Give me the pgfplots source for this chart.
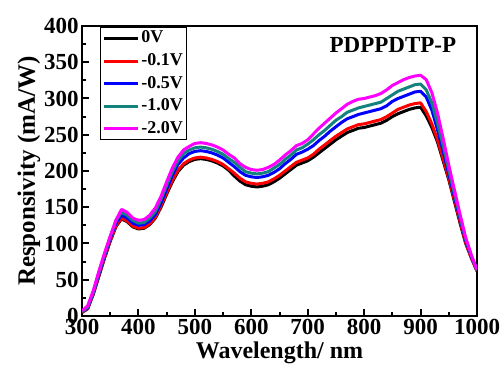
\documentclass[border=0pt]{standalone}
\usepackage{pgfplots}
\pgfplotsset{compat=1.18}
\usepackage{pgfplotstable}
\usepackage{fontspec}
\setmainfont{Liberation Serif}
\definecolor{cteal}{RGB}{20,130,125}
\definecolor{cmag}{RGB}{255,0,255}
\pgfplotstableread{
x b r bl t m
300 5 5 6 6 7
310 10 10 11 12 14
320 30 31 32 33 35
330 55 56 58 60 62
340 80 81 83 85 87
350 103 104 107 109 110
360 123 124 128 131 132
370 134 135 139 143 147
380 130 131 135 139 143
390 123 124 128 132 135
400 120 121 125 128 132
410 121 122 126 129 133
420 126 127 131 135 139
430 135 136 140 144 149
440 150 152 156 161 165
450 168 170 175 180 185
460 185 187 194 199 204
470 199 201 209 214 219
480 208 210 218 224 229
490 213 215 224 229 234
500 216 218 227 232 238
510 217 219 228 233 239
520 216 218 227 232 238
530 214 216 225 230 236
540 211 213 222 227 233
550 207 209 218 223 229
560 201 203 212 217 223
570 193 197 206 212 218
580 186 190 199 205 210
590 181 185 194 199 205
600 179 183 192 197 202
610 178 182 191 196 201
620 179 183 192 197 202
630 181 185 194 199 205
640 185 189 198 204 209
650 190 194 203 209 215
660 196 200 210 216 222
670 202 206 216 222 228
680 208 212 223 229 235
690 211 215 226 232 238
700 214 218 230 237 243
710 219 223 235 243 251
720 225 230 242 250 259
730 231 236 248 256 266
740 237 242 255 263 273
750 243 248 261 270 280
760 248 253 267 275 286
770 253 258 272 281 292
780 256 261 275 284 296
790 259 264 278 287 299
800 260 265 280 289 300
810 262 267 282 291 302
820 264 269 284 293 304
830 266 271 286 295 307
840 270 275 290 300 312
850 275 280 296 305 318
860 279 285 300 310 322
870 282 288 303 313 326
880 285 291 306 316 329
890 287 293 309 319 331
900 288 294 310 320 332
910 276 282 302 312 326
920 260 265 284 294 308
930 240 243 257 266 280
940 214 217 227 235 245
950 188 190 196 201 208
960 158 160 165 169 174
970 128 130 134 137 140
980 100 101 104 106 108
990 80 80 82 83 84
1000 62 62 63 63 64
}\datatable
\begin{document}
\begin{tikzpicture}
\begin{axis}[
  name=ax,
  scale only axis,
  width=197.5pt, height=145pt,
  xmin=300, xmax=1000, ymin=0, ymax=400,
  xtick={300,400,...,1000}, ytick={0,50,...,400},
  minor x tick num=1, minor y tick num=1,
  tick pos=left, tick align=inside,
  major tick length=3.5pt, minor tick length=2pt,
  every tick/.style={line width=1pt, black},
  axis line style={line width=1pt},
  /pgf/number format/assume math mode=true,
  /pgf/number format/1000 sep={},
  tick label style={font=\fontsize{11.5}{12}\selectfont\bfseries, inner sep=1.5pt},
  xlabel={Wavelength/ nm},
  ylabel={Responsivity (mA/W)},
  xlabel style={font=\fontsize{12}{13}\selectfont\bfseries, at={(axis description cs:0.5,-0.148)}, anchor=base},
  ylabel style={font=\fontsize{12.5}{13}\selectfont\bfseries, at={(axis description cs:-0.119,0.5)}, anchor=base},
  legend cell align=left,
  legend style={at={(0.046,0.997)}, anchor=north west, font=\fontsize{9}{10}\selectfont\bfseries, draw=black, line width=0.5pt, inner sep=0.8pt, row sep=1.8pt,
    nodes={inner sep=1pt}},
  legend image code/.code={\draw[#1] (0pt,0pt) -- (17pt,0pt);},
  every axis plot/.append style={line width=1.5pt, line join=round},
]
\addplot[black] table[x=x,y=b] {\datatable};
\addlegendentry{0V}
\addplot[red] table[x=x,y=r] {\datatable};
\addlegendentry{-0.1V}
\addplot[blue] table[x=x,y=bl] {\datatable};
\addlegendentry{-0.5V}
\addplot[cteal] table[x=x,y=t] {\datatable};
\addlegendentry{-1.0V}
\addplot[cmag] table[x=x,y=m] {\datatable};
\addlegendentry{-2.0V}
\node[font=\fontsize{11.5}{12}\selectfont\bfseries, anchor=east] at (rel axis cs:0.965,0.935) {PDPPDTP-P};
\end{axis}
\pgfresetboundingbox
\path ([xshift=-41pt,yshift=-25.5pt]ax.south west) rectangle ([xshift=11.5pt,yshift=13pt]ax.north east);
\end{tikzpicture}
\end{document}
